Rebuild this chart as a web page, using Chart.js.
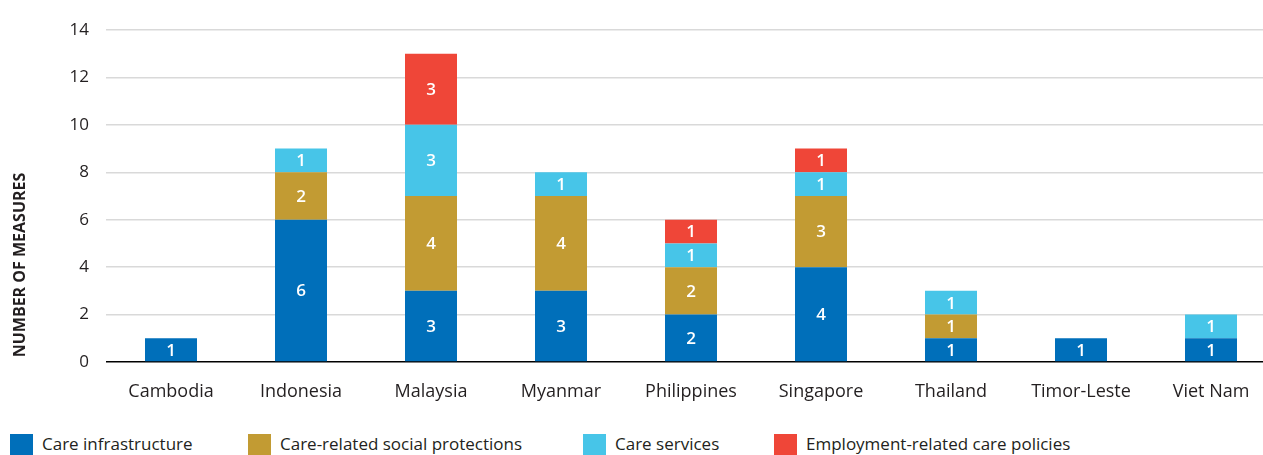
<!DOCTYPE html>
<html>
<head>
<meta charset="utf-8">
<script src="https://cdn.jsdelivr.net/npm/chart.js@4"></script>
<style>
  html, body { margin: 0; padding: 0; background: #fff; overflow: hidden; }
  #wrap { position: relative; width: 1276px; height: 455px; }
  #chart { position: absolute; left: 0; top: 0; }
  .leg { position: absolute; top: 434px; font-family: "Open Sans", sans-serif; font-size: 17px; color: #231f20; white-space: nowrap; }
  .leg span { position: absolute; left: 0; top: 0; width: 23px; height: 22px; }
  .leg b { font-weight: normal; position: absolute; left: 32px; top: -1px; line-height: 22px; }
</style>
</head>
<body>
<div id="wrap">
  <canvas id="chart" width="1276" height="420"></canvas>
</div>
<script>
const countries = ["Cambodia", "Indonesia", "Malaysia", "Myanmar", "Philippines", "Singapore", "Thailand", "Timor-Leste", "Viet Nam"];
const seriesNames = ["Care infrastructure", "Care-related social protections", "Care services", "Employment-related care policies"];
const seriesColors = ["#006fba", "#c29b33", "#47c5e8", "#ef4638"];
const careInfrastructure = [1, 6, 3, 3, 2, 4, 1, 1, 1];
const socialProtections = [0, 2, 4, 4, 2, 3, 1, 0, 0];
const careServices = [0, 1, 3, 1, 1, 1, 1, 0, 1];
const employmentPolicies = [0, 0, 3, 0, 1, 1, 0, 0, 0];
const yTicks = [0, 2, 4, 6, 8, 10, 12, 14];
const legendX = [10, 248, 583, 774];

const FONT = "'Open Sans', sans-serif";

// white numbers inside each segment
const segmentLabels = {
    id: 'segmentLabels',
    afterDatasetsDraw(chart) {
        const ctx = chart.ctx;
        ctx.save();
        ctx.fillStyle = '#fff';
        ctx.font = "600 17px " + FONT;
        ctx.textAlign = 'center';
        ctx.textBaseline = 'middle';
        chart.data.datasets.forEach((ds, i) => {
            chart.getDatasetMeta(i).data.forEach((bar, j) => {
                const v = ds.data[j];
                if (!v) return;
                ctx.fillText(v, bar.x, (bar.y + bar.base) / 2 + 1);
            });
        });
        ctx.restore();
    }
};

// rotated y title
const yTitle = {
    id: 'yTitle',
    afterDraw(chart) {
        const ctx = chart.ctx;
        ctx.save();
        ctx.translate(20, 265);
        ctx.rotate(-Math.PI / 2);
        ctx.font = "bold 16px " + FONT;
        ctx.fillStyle = '#231f20';
        ctx.textAlign = 'center';
        ctx.textBaseline = 'middle';
        ctx.fillText("NUMBER OF MEASURES", 0, 0);
        ctx.restore();
    }
};

const datasets = [careInfrastructure, socialProtections, careServices, employmentPolicies].map((d, i) => ({
    label: seriesNames[i],
    data: d,
    backgroundColor: seriesColors[i],
    borderWidth: 0,
    categoryPercentage: 1,
    barPercentage: 0.4
}));

new Chart(document.getElementById('chart'), {
    type: 'bar',
    data: { labels: countries, datasets: datasets },
    options: {
        responsive: false,
        animation: false,
        layout: { padding: { top: 30, right: 0, left: 0, bottom: 0 } },
        plugins: { legend: { display: false }, tooltip: { enabled: false } },
        scales: {
            x: {
                stacked: true,
                grid: { display: false, drawTicks: false },
                border: { display: false },
                ticks: { color: '#231f20', font: { family: FONT, size: 18 }, padding: 19 },
                afterFit: s => { s.height = 58; }
            },
            y: {
                stacked: true,
                min: 0,
                max: 14,
                afterBuildTicks: s => { s.ticks = yTicks.map(v => ({ value: v })); },
                grid: {
                    color: c => c.tick && c.tick.value === 0 ? '#000' : '#d9d9d9',
                    lineWidth: 1.5,
                    drawTicks: false
                },
                border: { display: false },
                ticks: { color: '#231f20', font: { family: FONT, size: 17 }, padding: 17 },
                afterFit: s => { s.width = 106; }
            }
        }
    },
    plugins: [segmentLabels, yTitle]
});

// legend
const wrap = document.getElementById('wrap');
seriesNames.forEach((name, i) => {
    const d = document.createElement('div');
    d.className = 'leg';
    d.style.left = legendX[i] + 'px';
    d.innerHTML = '<span style="background:' + seriesColors[i] + '"></span><b>' + name + '</b>';
    wrap.appendChild(d);
});
</script>
</body>
</html>
